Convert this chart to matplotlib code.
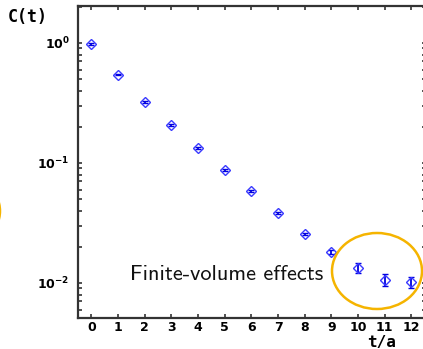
import os
import numpy as np
import matplotlib
matplotlib.use("Agg")
import matplotlib.pyplot as plt
from matplotlib.patches import Ellipse
from matplotlib.font_manager import FontProperties
from matplotlib.ticker import FuncFormatter, LogLocator, NullFormatter

# correlator data
t_vals = np.arange(13)
c_vals = [0.98, 0.541, 0.322, 0.207, 0.133, 0.0874, 0.0584, 0.0383,
          0.0256, 0.0181, 0.0133, 0.0106, 0.0102]
c_errs = [0.012, 0.006, 0.004, 0.003, 0.002, 0.0014, 0.001, 0.0008,
          0.0006, 0.0006, 0.0013, 0.0012, 0.0011]
x_ticks = list(range(13))

W, H = 423, 349
fig = plt.figure(figsize=(W / 100, H / 100), dpi=100)
ax = fig.add_axes([78 / W, 31 / H, 347.5 / W, 312 / H])

ax.errorbar(t_vals, c_vals, yerr=c_errs, fmt='D', ms=5.2, mfc='none',
            mec='#3a3aff', mew=1.0, ecolor='#0000e0', elinewidth=1.3,
            capsize=2, capthick=1.3)

ax.set_yscale('log')
ax.set_xlim(-0.5, 12.53)
ax.set_ylim(0.0051, 2.03)
ax.set_xticks(x_ticks)
ax.set_xticklabels([str(v) for v in x_ticks], fontweight='bold', fontsize=9)
ax.yaxis.set_major_locator(LogLocator(base=10))
ax.yaxis.set_minor_locator(LogLocator(base=10, subs=np.arange(2, 10)))
ax.yaxis.set_major_formatter(FuncFormatter(lambda v, p: r'$\mathbf{10^{%d}}$' % round(np.log10(v))))
ax.yaxis.set_minor_formatter(NullFormatter())

for s in ax.spines.values():
    s.set_color('#333333')
    s.set_linewidth(1.6)
ax.tick_params(axis='both', which='both', direction='in', top=True, right=True,
               color='#333333', width=1.2)
ax.tick_params(axis='both', which='major', length=3.2)
ax.tick_params(axis='x', which='major', pad=2.5)
ax.tick_params(axis='y', which='minor', length=2.8)
ax.tick_params(axis='y', which='major', labelsize=9, pad=6)

fig.text(8 / W, 1 - 17 / H, 'C(t)', family='DejaVu Sans Mono', fontweight='bold',
         fontsize=12, va='center', ha='left')
fig.text(382 / W, 1 - 342.5 / H, 't/a', family='DejaVu Sans Mono', fontweight='bold',
         fontsize=11.5, va='center', ha='center')

cmss = FontProperties(fname=os.path.join(matplotlib.get_data_path(), 'fonts', 'ttf', 'cmss10.ttf'), size=16)
fig.text(130 / W, 1 - 280 / H, 'Finite-volume effects', fontproperties=cmss,
         va='baseline', ha='left', color='#111111')

# highlight circles, placed in pixel space of the figure
orange = '#f5b400'
fig.patches.append(Ellipse((377 / W, 1 - 271 / H), 90 / W, 76 / H, fill=False,
                           ec=orange, lw=1.8, transform=fig.transFigure, figure=fig))
fig.patches.append(Ellipse((-45 / W, 1 - 211 / H), 90 / W, 76 / H, fill=False,
                           ec=orange, lw=1.8, transform=fig.transFigure, figure=fig))

fig.savefig('out.png', dpi=100)
